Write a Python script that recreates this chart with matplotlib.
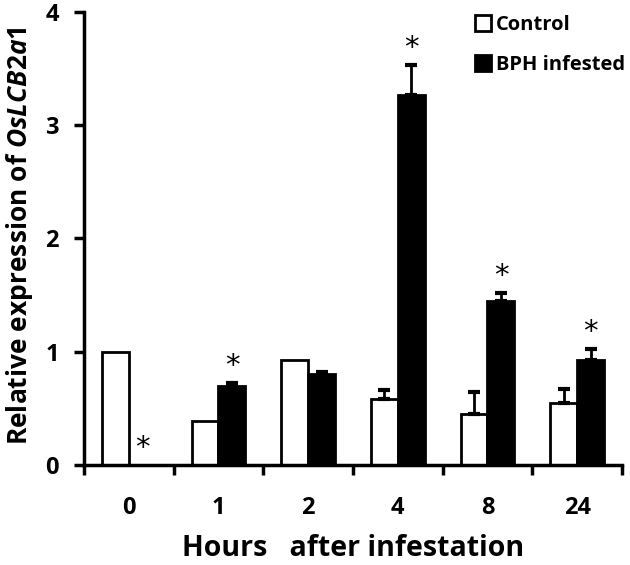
import numpy as np
import matplotlib.pyplot as plt
from matplotlib.patches import Patch

plt.rcParams['font.family'] = 'Open Sans'
plt.rcParams['font.weight'] = 'bold'
plt.rcParams['mathtext.fontset'] = 'custom'
plt.rcParams['mathtext.it'] = 'Open Sans:italic:bold'
plt.rcParams['mathtext.rm'] = 'Open Sans:bold'

# --- data ---
hours = ['0', '1', '2', '4', '8', '24']
control = [1.00, 0.39, 0.93, 0.58, 0.45, 0.55]
control_err = [0.0, 0.0, 0.0, 0.08, 0.19, 0.12]
bph = [0.0, 0.70, 0.80, 3.27, 1.45, 0.93]
bph_err = [0.0, 0.02, 0.02, 0.26, 0.07, 0.09]
bph_signif = [True, True, False, True, True, True]

x = np.arange(len(hours))
w = 0.3

fig = plt.figure(figsize=(6.3, 5.65), dpi=100)
ax = fig.add_axes([0.1333, 0.177, 0.854, 0.802])

ax.bar(x - w/2, control, w, color='white', edgecolor='black', linewidth=2, label='Control')
ax.bar(x + w/2, bph, w, color='black', edgecolor='black', linewidth=2, label='BPH infested')

# one sided error bars, skip the zero ones
for xs, vals, errs in [(x - w/2, control, control_err), (x + w/2, bph, bph_err)]:
    for xi, v, e in zip(xs, vals, errs):
        if e > 0:
            ax.errorbar(xi, v, yerr=[[0], [e]], fmt='none', ecolor='black',
                        elinewidth=2, capsize=4, capthick=3)

# significance stars
for i in range(len(x)):
    if bph_signif[i]:
        top = bph[i] + bph_err[i]
        ax.text(x[i] + w/2, top + 0.15, '*', ha='center', va='center', fontsize=21,
                fontweight='normal', family='DejaVu Sans')

ax.set_xlim(-0.5, len(x) - 0.5)
ax.set_ylim(0, 4)
ax.set_yticks([0, 1, 2, 3, 4])
ax.set_xticks(x)
ax.set_xticklabels(hours)
ax.set_xticks(np.arange(-0.5, len(x), 1), minor=True)
ax.tick_params(axis='x', which='major', length=0, pad=22, labelsize=17)
ax.tick_params(axis='x', which='minor', length=7, width=2.5, direction='out')
ax.tick_params(axis='y', length=7, width=2.5, labelsize=17, pad=11)

for s in ['top', 'right']:
    ax.spines[s].set_visible(False)
for s in ['left', 'bottom']:
    ax.spines[s].set_linewidth(2.5)

ax.set_ylabel(r'Relative expression of $\mathit{OsLCB2a1}$', fontsize=19, fontweight='bold')
ax.yaxis.label.set_va('center')
ax.yaxis.set_label_coords(-0.12, 0.505)
ax.set_xlabel('Hours   after infestation', fontsize=20.5, fontweight='bold')
ax.xaxis.label.set_va('center')
ax.xaxis.set_label_coords(0.5, -0.185)

handles = [Patch(facecolor='white', edgecolor='black', linewidth=2),
           Patch(facecolor='black', edgecolor='black', linewidth=2)]
ax.legend(handles, ['Control', 'BPH infested'], loc='upper right', bbox_to_anchor=(1.04, 1.033),
          frameon=False, fontsize=14.5, handlelength=0.8, handleheight=0.8, handletextpad=0.25,
          labelspacing=1.0)

fig.savefig('out.png', dpi=100)
